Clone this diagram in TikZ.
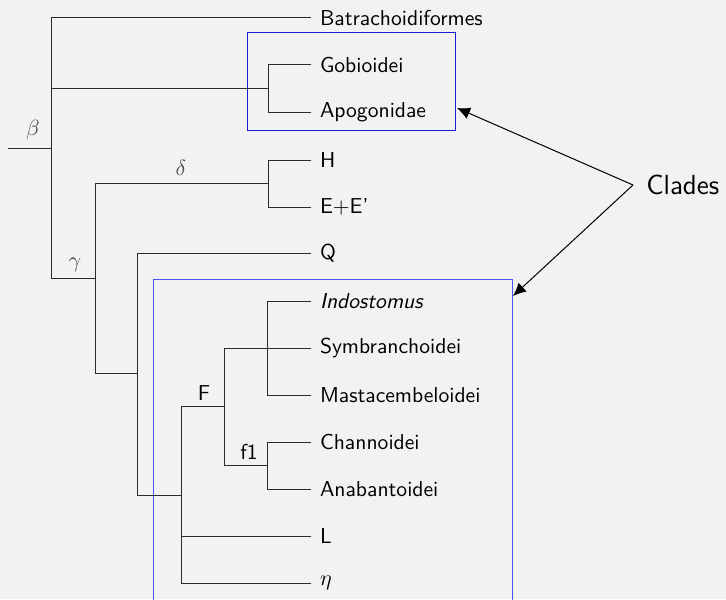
\documentclass[tikz,border=0pt]{standalone}
\usetikzlibrary{arrows.meta}
\definecolor{bgc}{HTML}{F2F2F2}
\definecolor{edgec}{HTML}{2A2A2A}
\definecolor{boxa}{HTML}{1A1AD0}
\definecolor{boxb}{HTML}{5050F0}
\begin{document}
\begin{tikzpicture}[x=0.5pt,y=-0.5pt,
  branch/.style={draw=edgec,line width=0.5pt},
  leaf/.style={anchor=west,inner xsep=4.5pt,inner ysep=0pt,outer sep=0pt,
    font=\sffamily\fontsize{10.8}{13}\selectfont,text=black},
  tag/.style={inner sep=0pt,font=\sffamily\fontsize{10.8}{13}\selectfont,text=black!70},
  cladebox/.style={draw=#1,line width=0.5pt,inner sep=0pt,fill=none},
  pointer/.style={draw=black,line width=0.5pt,-{Latex[length=6.5pt,width=6pt]}}]
\fill[bgc] (0,0) rectangle (726,599);
\useasboundingbox (0,0) rectangle (726,599);
\clip (0,0) rectangle (726,599);

% clade boxes
\node[cladebox=boxa,minimum width=104pt,minimum height=49pt] (cladeA) at (351,81.5) {};
\node[cladebox=boxb,minimum width=179.5pt,minimum height=170.5pt] (cladeB) at (332.5,449.5) {};

% leaves
\node[leaf] (batr) at (311,18) {Batrachoidiformes};
\node[leaf] (gobi) at (311,65) {Gobioidei};
\node[leaf] (apog) at (311,112) {Apogonidae};
\node[leaf] (hh) at (311,160) {H};
\node[leaf] (ee) at (311,207) {E+E'};
\node[leaf] (qq) at (311,253) {Q};
\node[leaf] (indo) at (311,301) {\itshape Indostomus};
\node[leaf] (symb) at (311,348) {Symbranchoidei};
\node[leaf] (mast) at (311,395) {Mastacembeloidei};
\node[leaf] (chan) at (311,442) {Channoidei};
\node[leaf] (anab) at (311,489) {Anabantoidei};
\node[leaf] (ll) at (311,536) {L};
\node[leaf] (eta) at (311,583) {$\eta$};

% internal nodes
\coordinate (anc) at (8,148);
\coordinate (beta) at (51,148);
\coordinate (gobn) at (268,88);
\coordinate (gamma) at (95,278);
\coordinate (delta) at (268,183);
\coordinate (qn) at (137,373);
\coordinate (fn) at (181,495);
\coordinate (ffn) at (224,406);
\coordinate (indn) at (267,348);
\coordinate (f1n) at (267,465);

% branches
\draw[branch] (anc) -- (beta);
\draw[branch] (beta) |- (batr);
\draw[branch] (beta) |- (gobn);
\draw[branch] (gobn) |- (gobi);
\draw[branch] (gobn) |- (apog);
\draw[branch] (beta) |- (gamma);
\draw[branch] (gamma) |- (delta);
\draw[branch] (delta) |- (hh);
\draw[branch] (delta) |- (ee);
\draw[branch] (gamma) |- (qn);
\draw[branch] (qn) |- (qq);
\draw[branch] (qn) |- (fn);
\draw[branch] (fn) |- (ffn);
\draw[branch] (fn) |- (ll);
\draw[branch] (fn) |- (eta);
\draw[branch] (ffn) |- (symb);
\draw[branch] (indn) |- (indo);
\draw[branch] (indn) |- (mast);
\draw[branch] (ffn) |- (f1n);
\draw[branch] (f1n) |- (chan);
\draw[branch] (f1n) |- (anab);

% node labels
\node[tag] (lbeta) at (33,130) {$\beta$};
\node[tag] (lgamma) at (75,265) {$\gamma$};
\node[tag] (ldelta) at (181,168) {$\delta$};
\node[tag,text=black] (lF) at (204,393) {F};
\node[tag,text=black] (lf1) at (249,452) {f1};

% clade pointers
\node[anchor=west,inner xsep=6.5pt,inner ysep=0pt,font=\sffamily\fontsize{13.8}{16}\selectfont,text=black] (clades) at (633,185) {Clades};
\coordinate (tipA) at (457,108);
\coordinate (tipB) at (513,296);
\draw[pointer] (clades.west) -- (tipA);
\draw[pointer] (clades.west) -- (tipB);
\end{tikzpicture}
\end{document}
